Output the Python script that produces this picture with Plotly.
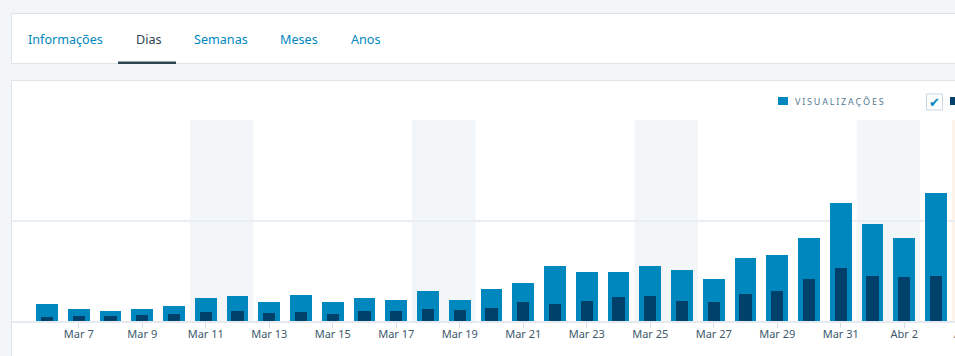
import plotly.graph_objects as go
import pandas as pd

# ---- data ----
dates = pd.date_range("2017-03-06", "2017-04-03", freq="D")
views = [17, 12, 10, 12, 15, 23, 25, 19, 26, 19, 23, 21, 30, 21,
         32, 38, 55, 49, 49, 55, 51, 42, 63, 66, 83, 117, 97, 83, 127]
visitors = [4, 5, 5, 6, 7, 9, 10, 8, 9, 7, 10, 10, 12, 11,
            13, 19, 17, 20, 24, 25, 20, 19, 27, 30, 42, 53, 45, 44, 45]
tick_dates = pd.date_range("2017-03-07", "2017-04-04", freq="2D")
month_pt = {3: "Mar", 4: "Abr"}
tick_labels = [f"{month_pt[d.month]} {d.day}" for d in tick_dates]
today = pd.Timestamp("2017-04-04")
tabs = ["Informações", "Dias", "Semanas", "Meses", "Anos"]
active_tab = "Dias"
legend_label = "VISUALIZAÇÕES"

# ---- styling ----
W_FIG, H_FIG = 990, 356
L, R, T, B = 11, 990, 120, 321
PW, PH = R - L, B - T
BG = "#f3f6f8"
BORDER = "#dce4ea"
BLUE = "#0087be"
DARK = "#00416b"
DAY = pd.Timedelta(days=1)


def px(x):
    return (x - L) / PW


def py(y):
    return (B - y) / PH


fig = go.Figure()
fig.add_bar(x=dates, y=views, marker_color=BLUE, marker_line_width=0,
            width=0.69 * 86400000, name="Visualizações")
fig.add_bar(x=dates, y=visitors, marker_color=DARK, marker_line_width=0,
            width=0.38 * 86400000, name="Visitantes")

shapes = []
# cards
shapes.append(dict(type="rect", xref="paper", yref="paper", layer="below",
                   x0=px(11.5), x1=px(1000), y0=py(13.5), y1=py(63.5),
                   fillcolor="white", line=dict(color=BORDER, width=1)))
shapes.append(dict(type="rect", xref="paper", yref="paper", layer="below",
                   x0=px(11.5), x1=px(1000), y0=py(80.5), y1=py(370),
                   fillcolor="white", line=dict(color=BORDER, width=1)))
# weekend bands (Saturday + Sunday merged)
for d in dates:
    if d.weekday() == 5:
        shapes.append(dict(type="rect", xref="x", yref="paper", layer="below",
                           x0=d - DAY / 2, x1=d + DAY * 1.5, y0=0, y1=1,
                           fillcolor=BG, line=dict(width=0)))
# today band
shapes.append(dict(type="rect", xref="x", yref="paper", layer="below",
                   x0=today - DAY / 2, x1=today + DAY / 2, y0=0, y1=1,
                   fillcolor="#fdf3ea", line=dict(width=0)))
# active tab underline
shapes.append(dict(type="rect", xref="paper", yref="paper",
                   x0=px(118), x1=px(176), y0=py(61.5), y1=py(64),
                   fillcolor="#2e4453", line=dict(width=0)))
# legend square
shapes.append(dict(type="rect", xref="paper", yref="paper",
                   x0=px(778), x1=px(788), y0=py(97), y1=py(105),
                   fillcolor=BLUE, line=dict(width=0)))
# checkbox
shapes.append(dict(type="rect", xref="paper", yref="paper",
                   x0=px(926.5), x1=px(942.5), y0=py(94), y1=py(110),
                   fillcolor="white", line=dict(color="#c8d7e1", width=1)))
# second legend square (cropped)
shapes.append(dict(type="rect", xref="paper", yref="paper",
                   x0=px(950), x1=px(960), y0=py(97), y1=py(105),
                   fillcolor=DARK, line=dict(width=0)))

annotations = []
tab_x = [26, 134, 192, 278, 349]
for name, x in zip(tabs, tab_x):
    annotations.append(dict(
        text=name, x=px(x), y=py(39.5), xref="paper", yref="paper",
        xanchor="left", yanchor="middle", showarrow=False,
        font=dict(family="Noto Sans", size=12.6,
                  color="#2e4453" if name == active_tab else BLUE)))
annotations.append(dict(
    text="\u200a\u200a".join(legend_label), x=px(792.5), y=py(101),
    xref="paper", yref="paper", xanchor="left", yanchor="middle",
    showarrow=False,
    font=dict(family="Noto Sans", size=9, color="#557a92")))
annotations.append(dict(
    text="<b>✔</b>", x=px(934.5), y=py(102), xref="paper", yref="paper",
    xanchor="center", yanchor="middle", showarrow=False,
    font=dict(family="DejaVu Sans", size=13, color=BLUE)))

fig.update_layout(
    width=W_FIG, height=H_FIG,
    margin=dict(l=L, r=W_FIG - R, t=T, b=H_FIG - B, pad=0),
    paper_bgcolor=BG, plot_bgcolor="rgba(0,0,0,0)",
    barmode="overlay", bargap=0, showlegend=False,
    shapes=shapes, annotations=annotations,
    font=dict(family="Noto Sans", color="#3d596d"),
    xaxis=dict(
        type="date",
        range=[dates[0] - DAY * ((47 - L) / 31.75),
               dates[0] + DAY * ((R - 47) / 31.75)],
        tickmode="array", tickvals=tick_dates, ticktext=tick_labels,
        ticks="outside", ticklen=5, tickcolor="#d5dee5", tickwidth=1,
        ticklabelstandoff=-3,
        showgrid=False, showline=True, linecolor="#e4eaef", linewidth=2,
        tickfont=dict(family="Noto Sans", size=11, color="#3d596d"),
        fixedrange=True,
    ),
    yaxis=dict(
        range=[0, 200], tickvals=[0, 100, 200], showticklabels=False,
        showgrid=True, gridcolor="#e9eef2", gridwidth=2, zeroline=False,
        fixedrange=True,
    ),
)

fig.write_html(
    "out.html",
    config={"displayModeBar": False},
    post_script="document.body.style.margin='0';"
                "document.body.style.overflow='hidden';",
)
